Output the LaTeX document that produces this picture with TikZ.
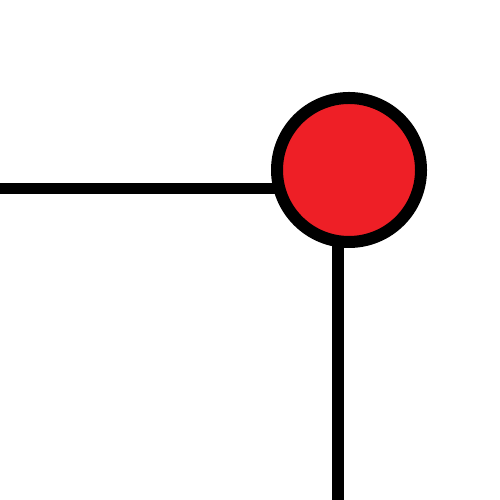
\documentclass[tikz,border=0pt]{standalone}
\usepackage{xcolor}
\definecolor{dotred}{HTML}{EE1F26}
\usepackage{tikz}
\usetikzlibrary{backgrounds}

\begin{document}
\begin{tikzpicture}[
  dot/.style={circle, draw=black, fill=dotred, line width=0.12cm,
              minimum size=1.44cm, inner sep=0pt},
  wire/.style={black, line width=0.115cm}
]
  \useasboundingbox (0,0) rectangle (5,5);
  \node[dot] (pin) at (3.49,3.30) {};
  \coordinate (lft) at (0,3.115);
  \coordinate (bot) at (3.38,0);

  % wires run under the dot
  \begin{scope}[on background layer]
    \draw[wire] (lft) -- (lft -| pin);
    \draw[wire] (bot) -- (bot |- pin);
  \end{scope}
\end{tikzpicture}
\end{document}
